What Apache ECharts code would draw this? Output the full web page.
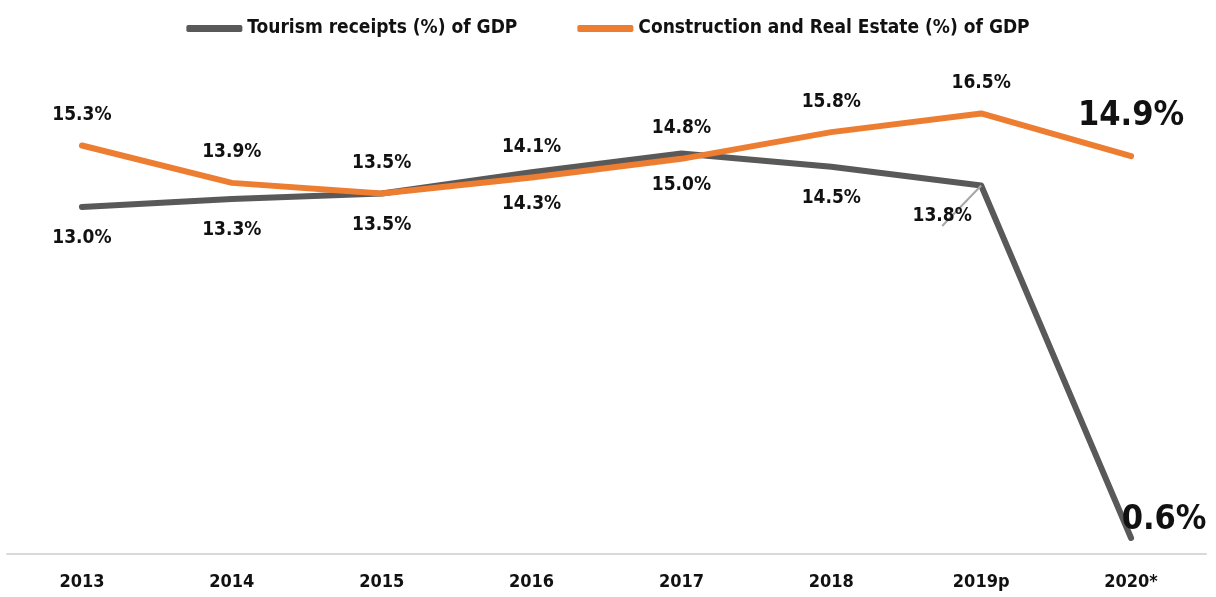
<!DOCTYPE html>
<html>
<head>
<meta charset="utf-8">
<script src="https://cdn.jsdelivr.net/npm/echarts@6/dist/echarts.min.js"></script>
<style>
    html, body { margin: 0; padding: 0; background: #fff; }
    #chart { width: 1216px; height: 597px; }
</style>
</head>
<body>
<div id="chart"></div>
<script>
// data
const years = ['2013', '2014', '2015', '2016', '2017', '2018', '2019p', '2020*'];
const tourism = [13.0, 13.3, 13.5, 14.3, 15.0, 14.5, 13.8, 0.6];
const construction = [15.3, 13.9, 13.5, 14.1, 14.8, 15.8, 16.5, 14.9];

const FONT = '"DejaVu Sans Condensed", "Liberation Sans Narrow", "Arial Narrow", sans-serif';
const pct = p => p.value.toFixed(1) + '%';

// per point label tweaks
const tourismData = tourism.map((v, i) => {
    if (i === 6) {
        return {
            value: v,
            label: { position: 'inside', offset: [-39, 31] },
            labelLine: { show: true, lineStyle: { color: '#a6a6a6', width: 2 } }
        };
    }
    if (i === 7) {
        return { value: v, label: { position: 'inside', offset: [33, -18], fontSize: 34 } };
    }
    return v;
});

const constructionData = construction.map((v, i) => {
    if (i === 7) {
        return { value: v, label: { fontSize: 34, distance: 23 } };
    }
    return v;
});

const chart = echarts.init(document.getElementById('chart'));
chart.setOption({
    animation: false,
    textStyle: { fontFamily: FONT },
    legend: {
        top: 14,
        left: 'center',
        itemGap: 60,
        itemWidth: 56,
        itemHeight: 7,
        icon: 'roundRect',
        textStyle: { fontFamily: FONT, fontSize: 19, fontWeight: 'bold', color: '#111' },
        data: ['Tourism receipts (%) of GDP', 'Construction and Real Estate (%) of GDP']
    },
    grid: { left: 7, right: 10, top: 20, bottom: 43 },
    xAxis: {
        type: 'category',
        data: years,
        boundaryGap: true,
        axisTick: { show: false },
        axisLine: { lineStyle: { color: '#d9d9d9', width: 2 } },
        axisLabel: { color: '#111', fontFamily: FONT, fontSize: 18, fontWeight: 'bold', margin: 19 }
    },
    yAxis: {
        type: 'value',
        min: 0,
        max: 20,
        show: false,
        splitLine: { show: false }
    },
    series: [
        {
            name: 'Tourism receipts (%) of GDP',
            type: 'line',
            data: tourismData,
            smooth: false,
            symbol: 'circle',
            symbolSize: 0,
            itemStyle: { color: '#595959' },
            lineStyle: { color: '#595959', width: 6, cap: 'round', join: 'round' },
            label: {
                show: true,
                position: 'bottom',
                distance: 22,
                formatter: pct,
                color: '#111',
                fontFamily: FONT,
                fontSize: 19,
                fontWeight: 'bold'
            }
        },
        {
            name: 'Construction and Real Estate (%) of GDP',
            type: 'line',
            data: constructionData,
            smooth: false,
            symbol: 'circle',
            symbolSize: 0,
            itemStyle: { color: '#ed7d31' },
            lineStyle: { color: '#ed7d31', width: 6, cap: 'round', join: 'round' },
            label: {
                show: true,
                position: 'top',
                distance: 21,
                formatter: pct,
                color: '#111',
                fontFamily: FONT,
                fontSize: 19,
                fontWeight: 'bold'
            }
        }
    ]
});
</script>
</body>
</html>
